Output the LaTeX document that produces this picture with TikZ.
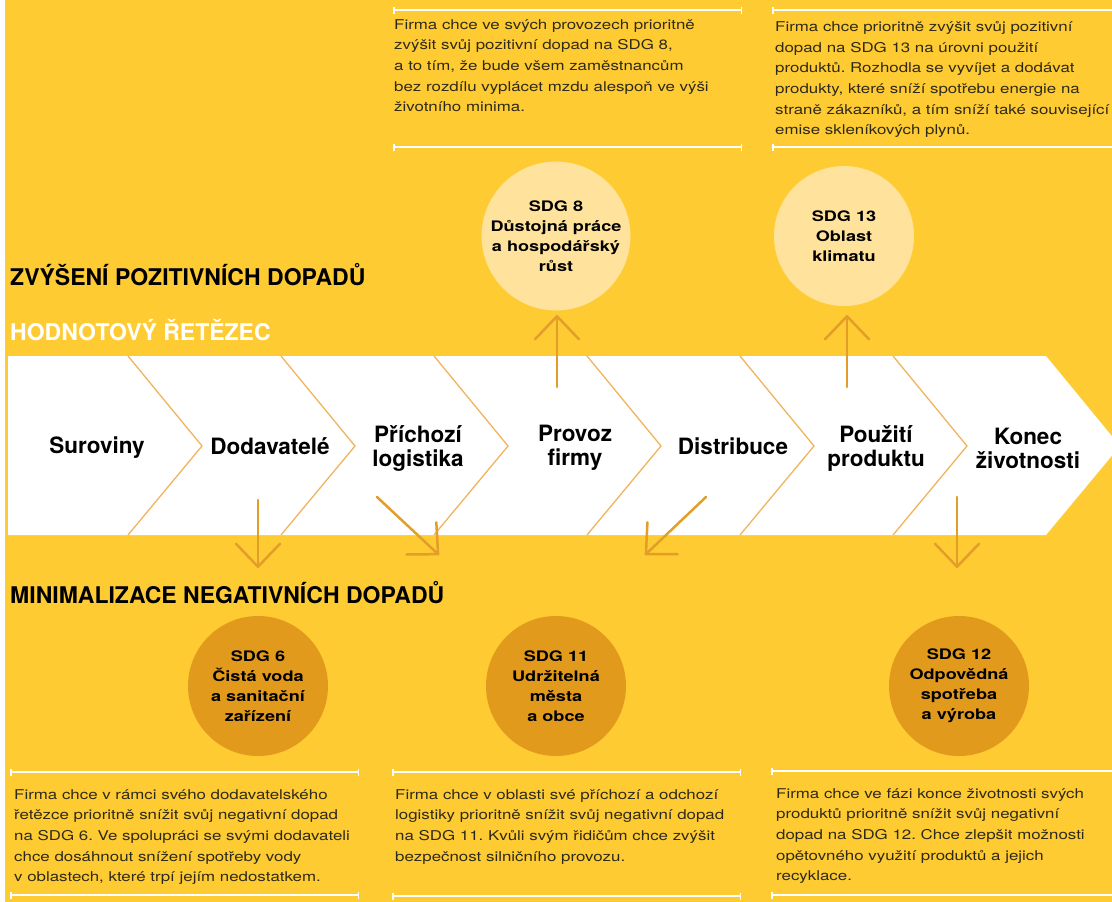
\documentclass[tikz,border=0pt]{standalone}
\usepackage{fontspec}
\setmainfont{TeX Gyre Heros}
\newfontfamily\widesans[FakeStretch=1.25]{TeX Gyre Heros}
\usetikzlibrary{arrows.meta, positioning}
\definecolor{sdgyellow}{HTML}{FFCB32}
\definecolor{sdglight}{HTML}{FFE39C}
\definecolor{sdgdark}{HTML}{E19A1B}
\definecolor{sdgarrow}{HTML}{E39E2A}
\definecolor{chevline}{HTML}{F0B55C}
\definecolor{notetext}{HTML}{2E2A1A}
\frenchspacing

\begin{document}
\begin{tikzpicture}[x=1pt, y=-1pt,
  sectionhead/.style={anchor=base west, inner sep=0pt, font=\fontsize{23}{26}\selectfont\bfseries},
  stagelabel/.style={inner sep=0pt, align=center, font=\fontsize{22.5}{24}\selectfont\bfseries},
  goalup/.style={circle, fill=sdglight, minimum size=140pt, inner sep=0pt, align=center, font=\widesans\fontsize{14.5}{20}\selectfont\bfseries},
  goaldown/.style={goalup, fill=sdgdark},
  notebox/.style={anchor=north west, inner sep=0pt, align=left, text=notetext, font=\widesans\fontsize{13.5}{20.7}\selectfont},
  notesep/.style={white, line width=1.5pt},
  flowarrow/.style={sdgarrow, line width=2.5pt, line cap=round, -{Straight Barb[length=23pt, width=44pt, round]}}
]
  \useasboundingbox (0,0) rectangle (1112,902);
  \fill[white] (0,0) rectangle (1112,902);
  \fill[sdgyellow] (5,0) rectangle (1112,902);

  % value chain band
  \fill[white] (8,356) -- (1046,356) -- (1120,446) -- (1046,535) -- (8,535) -- cycle;
  \foreach \x in {128,281,434,587,740,893}
    \draw[chevline, line width=1.3pt] (\x,356) -- (\x+74,446) -- (\x,535);

  \node[stagelabel] (raw) at (97,448) {Suroviny};
  \node[stagelabel] (supp) at (270,446) {Dodavatelé};
  \node[stagelabel] (inlog) at (418,448) {Příchozí\\logistika};
  \node[stagelabel] (ops) at (575,448) {Provoz\\firmy};
  \node[stagelabel] (dist) at (733,446) {Distribuce};
  \node[stagelabel] (use) at (876,448) {Použití\\produktu};
  \node[stagelabel] (eol) at (1028,448) {Konec\\životnosti};

  % headings
  \node[sectionhead] (poshead) at (10,285) {ZVÝŠENÍ POZITIVNÍCH DOPADŮ};
  \node[sectionhead, text=white] (chainhead) at (10,340) {HODNOTOVÝ ŘETĚZEC};
  \node[sectionhead] (neghead) at (10,603) {MINIMALIZACE NEGATIVNÍCH DOPADŮ};

  % goals
  \node[goalup] (sdg8) at (556,236) {SDG 8\\Důstojná práce\\a hospodářský\\růst};
  \node[goalup] (sdg13) at (844,236) {SDG 13\\Oblast\\klimatu};
  \node[goaldown] (sdg6) at (258,686) {SDG 6\\Čistá voda\\a sanitační\\zařízení};
  \node[goaldown] (sdg11) at (556,686) {SDG 11\\Udržitelná\\města\\a obce};
  \node[goaldown] (sdg12) at (959,686) {SDG 12\\Odpovědná\\spotřeba\\a výroba};

  % arrows between chain and goals
  \coordinate (ops-top) at (557,387);
  \coordinate (sdg8-in) at (557,315);
  \coordinate (use-top) at (847,387);
  \coordinate (sdg13-in) at (847,315);
  \coordinate (supp-low) at (258,500);
  \coordinate (sdg6-in) at (258,568);
  \coordinate (inlog-low) at (377,497);
  \coordinate (sdg11-left) at (439,555);
  \coordinate (dist-low) at (706,497);
  \coordinate (sdg11-right) at (645,555);
  \coordinate (eol-low) at (957,497);
  \coordinate (sdg12-in) at (957,568);
  \draw[flowarrow] (ops-top) -- (sdg8-in);
  \draw[flowarrow] (use-top) -- (sdg13-in);
  \draw[flowarrow] (supp-low) -- (sdg6-in);
  \draw[flowarrow] (inlog-low) -- (sdg11-left);
  \draw[flowarrow] (dist-low) -- (sdg11-right);
  \draw[flowarrow] (eol-low) -- (sdg12-in);

  % notes, top
  \draw[notesep, {Bar[width=7pt]}-{Bar[width=7pt]}] (393,10) -- (742,10);
  \draw[notesep, {Bar[width=7pt]}-{Bar[width=7pt]}] (393,147) -- (742,147);
  \node[notebox] (note8) at (394,19) {Firma chce ve svých provozech prioritně\\zvýšit svůj pozitivní dopad na SDG 8,\\a to tím, že bude všem zaměstnancům\\bez rozdílu vyplácet mzdu alespoň ve výši\\životního minima.};
  \draw[notesep, {Bar[width=7pt]}-] (772,10) -- (1115,10);
  \draw[notesep, {Bar[width=7pt]}-] (772,147) -- (1115,147);
  \node[notebox] (note13) at (775,21) {Firma chce prioritně zvýšit svůj pozitivní\\dopad na SDG 13 na úrovni použití\\produktů. Rozhodla se vyvíjet a dodávat\\produkty, které sníží spotřebu energie na\\straně zákazníků, a tím sníží také související\\emise skleníkových plynů.};

  % notes, bottom
  \draw[notesep, {Bar[width=7pt]}-{Bar[width=7pt]}] (10,772) -- (359,772);
  \draw[notesep, {Bar[width=7pt]}-{Bar[width=7pt]}] (10,895) -- (359,895);
  \node[notebox] (note6) at (14,789) {Firma chce v rámci svého dodavatelského\\řetězce prioritně snížit svůj negativní dopad\\na SDG 6. Ve spolupráci se svými dodavateli\\chce dosáhnout snížení spotřeby vody\\v oblastech, které trpí jejím nedostatkem.};
  \draw[notesep, {Bar[width=7pt]}-{Bar[width=7pt]}] (392,772) -- (741,772);
  \draw[notesep, {Bar[width=7pt]}-{Bar[width=7pt]}] (392,896) -- (741,896);
  \node[notebox] (note11) at (395,789) {Firma chce v oblasti své příchozí a odchozí\\logistiky prioritně snížit svůj negativní dopad\\na SDG 11. Kvůli svým řidičům chce zvýšit\\bezpečnost silničního provozu.};
  \draw[notesep, {Bar[width=7pt]}-] (771,771) -- (1115,771);
  \draw[notesep, {Bar[width=7pt]}-] (771,895) -- (1115,895);
  \node[notebox] (note12) at (776,788) {Firma chce ve fázi konce životnosti svých\\produktů prioritně snížit svůj negativní\\dopad na SDG 12. Chce zlepšit možnosti\\opětovného využití produktů a jejich\\recyklace.};
\end{tikzpicture}
\end{document}
